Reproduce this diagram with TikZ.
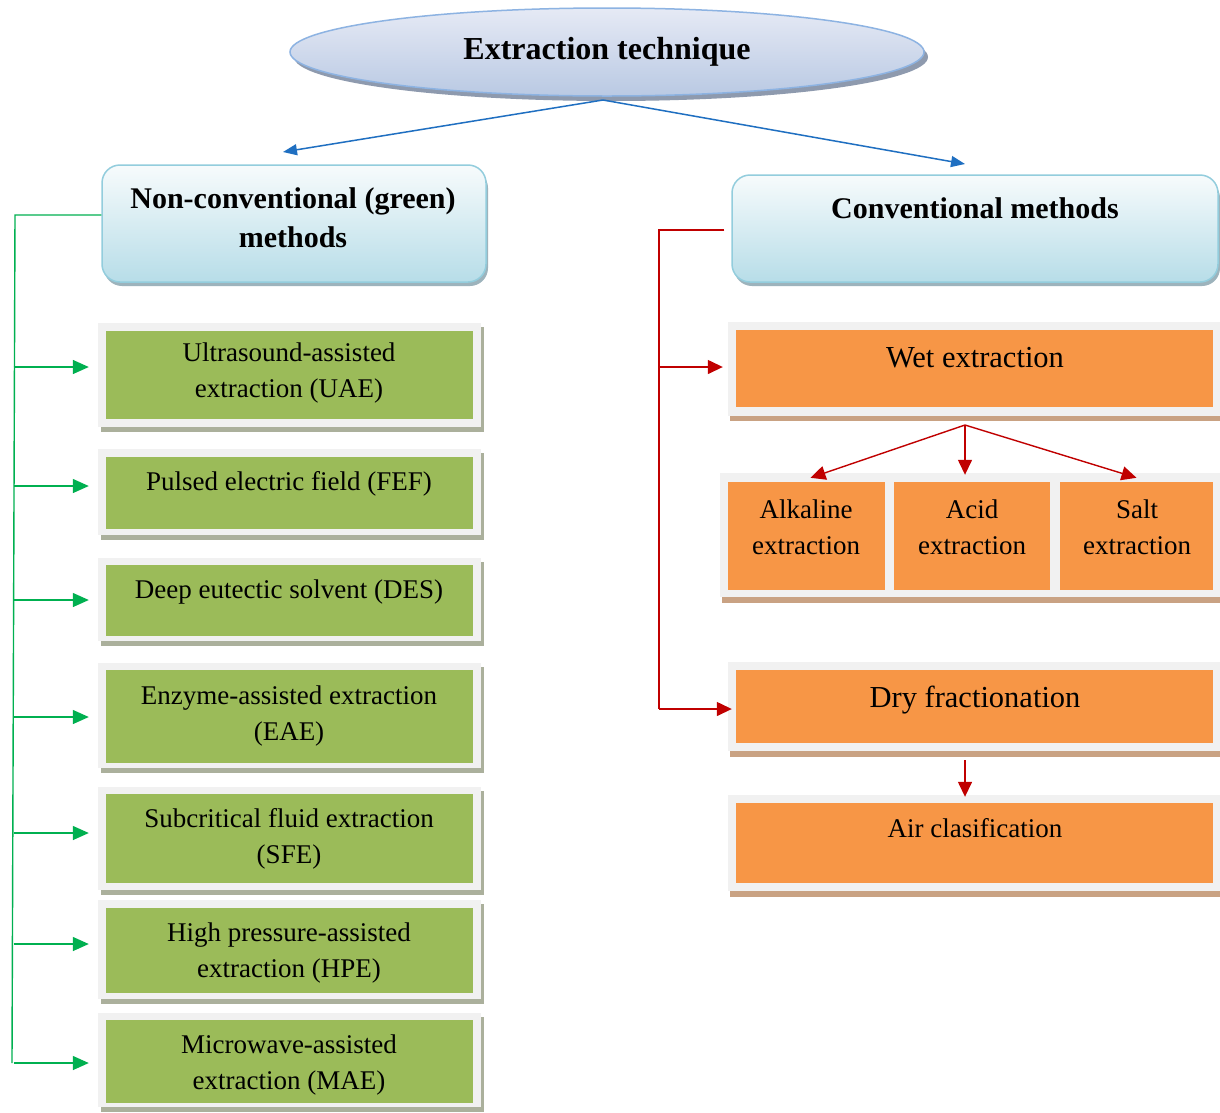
\documentclass[tikz,border=0pt]{standalone}
\usepackage{fontspec}
\setmainfont{Liberation Serif}
\usetikzlibrary{shapes.geometric,arrows.meta}
\definecolor{gbox}{HTML}{9BBB59}
\definecolor{obox}{HTML}{F79646}
\definecolor{frm}{HTML}{F1F1F1}
\definecolor{gshad}{HTML}{ABB09C}
\definecolor{oshad}{HTML}{C9A283}
\definecolor{gline}{HTML}{00B050}
\definecolor{rline}{HTML}{C00000}
\definecolor{bline}{HTML}{1F6FC1}
\definecolor{hdrtop}{HTML}{F7FBFC}
\definecolor{hdrbot}{HTML}{B7DDE8}
\definecolor{hdrline}{HTML}{93CDDD}
\definecolor{hdrshad}{HTML}{9DB3BC}
\definecolor{eltop}{HTML}{E6EAF5}
\definecolor{elbot}{HTML}{B9C9E3}
\definecolor{elline}{HTML}{8DB3E2}
\definecolor{elshad}{HTML}{8E9AAE}
\begin{document}
\begin{tikzpicture}[x=1pt,y=-1pt,
  greenbox/.style={fill=gbox, draw=none, minimum width=367pt, inner sep=0pt},
  orangebox/.style={fill=obox, draw=none, inner sep=0pt},
  gtxt/.style={align=center, font=\fontsize{27}{36}\selectfont, inner sep=0pt},
  otxt/.style={align=center, font=\fontsize{30.5}{37}\selectfont, inner sep=0pt},
  htxt/.style={align=center, font=\bfseries\fontsize{30}{39}\selectfont, inner sep=0pt},
  header/.style={rounded corners=18pt, top color=hdrtop, bottom color=hdrbot, draw=hdrline, line width=1.5pt, inner sep=0pt},
  garrow/.style={draw=gline, line width=1.4pt, -{Triangle[length=16pt,width=14pt]}},
  rarrow/.style={draw=rline, line width=1.4pt, -{Triangle[length=15pt,width=14pt]}},
  barrow/.style={draw=bline, line width=1.5pt, -{Triangle[length=14pt,width=11pt]}}
]
\useasboundingbox (0,0) rectangle (1220,1112);
\fill[white] (0,0) rectangle (1220,1112);

% root ellipse
\fill[elshad] (611,57) ellipse [x radius=317pt, y radius=44pt];
\node[ellipse, minimum width=634pt, minimum height=88pt, top color=eltop, bottom color=elbot, draw=elline, line width=1.5pt, font=\bfseries\fontsize{32}{36}\selectfont] (root) at (607,52) {\raisebox{4pt}{Extraction technique}};

% headers
\fill[hdrshad, rounded corners=18pt] (104,170) rectangle (488,286);
\node[header, minimum width=384pt, minimum height=117pt] (green) at (294,223.5) {};
\node[htxt] (greenT) at (293,218) {Non-conventional (green)\\methods};
\fill[hdrshad, rounded corners=18pt] (734,180) rectangle (1220,286);
\node[header, minimum width=486pt, minimum height=107pt] (conv) at (975,228.5) {};
\node[htxt] (convT) at (975,208) {Conventional methods};

\coordinate (rootL) at (603,100);
\coordinate (bl) at (283,152);
\coordinate (br) at (965,164);
\draw[barrow] (rootL) -- (bl);
\draw[barrow] (rootL) -- (br);

% green frames
\foreach \t/\b in {323/432, 449/540, 558/646, 663/773, 787/895, 900/1004, 1013/1112}{
  \fill[gshad] (101,\t+4) rectangle (484,\b);
  \fill[frm] (98,\t) rectangle (481,\b-5);
}
\node[greenbox, minimum height=88pt] (uae) at (289.5,375) {};
\node[greenbox, minimum height=72pt] (fef) at (289.5,493) {};
\node[greenbox, minimum height=71pt] (des) at (289.5,600.5) {};
\node[greenbox, minimum height=93pt] (eae) at (289.5,716.5) {};
\node[greenbox, minimum height=89pt] (sfe) at (289.5,838.5) {};
\node[greenbox, minimum height=85pt] (hpe) at (289.5,950.5) {};
\node[greenbox, minimum height=83pt] (mae) at (289.5,1061.5) {};
\node[gtxt] (uaeT) at (289,373) {Ultrasound-assisted\\extraction (UAE)};
\node[gtxt] (fefT) at (289,484) {Pulsed electric field (FEF)};
\node[gtxt] (desT) at (289,592) {Deep eutectic solvent (DES)};
\node[gtxt] (eaeT) at (289,716) {Enzyme-assisted extraction\\(EAE)};
\node[gtxt] (sfeT) at (289,839) {Subcritical fluid extraction\\(SFE)};
\node[gtxt] (hpeT) at (289,953) {High pressure-assisted\\extraction (HPE)};
\node[gtxt] (maeT) at (289,1065) {Microwave-assisted\\extraction (MAE)};

% green connectors
\coordinate (gtop) at (15,215);
\coordinate (gbot) at (12,1063);
\draw[draw=gline, line width=1.4pt] (green.west |- gtop) -- (gtop) -- (gbot);
\foreach \n/\y in {uae/367, fef/486, des/600, eae/717, sfe/833, hpe/944, mae/1063}{
  \coordinate (s\n) at (13.5,\y);
  \draw[garrow] (s\n) -- ([xshift=-17pt]\n.west |- s\n);
}

% orange frames
\fill[oshad] (730,326) rectangle (1220,421);
\fill[frm] (728,322) rectangle (1220,416);
\node[orangebox, minimum width=477pt, minimum height=77pt] (wet) at (974.5,368.5) {};
\node[otxt] (wetT) at (975,358) {Wet extraction};

\fill[oshad] (722,478) rectangle (1220,603);
\fill[frm] (720,473) rectangle (1220,597);
\node[orangebox, minimum width=157pt, minimum height=108pt] (alk) at (806.5,536) {};
\node[orangebox, minimum width=156pt, minimum height=108pt] (acid) at (972,536) {};
\node[orangebox, minimum width=153pt, minimum height=108pt] (salt) at (1136.5,536) {};
\node[gtxt] (alkT) at (806,527) {Alkaline\\extraction};
\node[gtxt] (acidT) at (972,527) {Acid\\extraction};
\node[gtxt] (saltT) at (1137,527) {Salt\\extraction};

\fill[oshad] (730,666) rectangle (1220,757);
\fill[frm] (728,662) rectangle (1220,751);
\node[orangebox, minimum width=477pt, minimum height=73pt] (dry) at (974.5,706.5) {};
\node[otxt] (dryT) at (975,700) {Dry fractionation};

\fill[oshad] (730,799) rectangle (1220,897);
\fill[frm] (728,795) rectangle (1220,891);
\node[orangebox, minimum width=477pt, minimum height=80pt] (air) at (974.5,843) {};
\node[gtxt] (airT) at (975,828) {Air clasification};

% red connectors
\coordinate (rtop) at (659,230);
\coordinate (rbot) at (659,709);
\coordinate (rwet) at (659,367);
\draw[draw=rline, line width=1.3pt] ([xshift=-7pt]conv.west |- rtop) -- (rtop) -- (rbot);
\draw[rarrow] (rwet) -- ([xshift=-13pt]wet.west |- rwet);
\draw[rarrow] (rbot) -- ([xshift=-4pt]dry.west |- rbot);

\coordinate (wetB) at (965,425);
\draw[rarrow] (wetB) -- ([xshift=4pt,yshift=4pt]alk.north);
\draw[rarrow] (wetB) -- ([yshift=7pt]wetB |- acid.north);
\draw[rarrow] (wetB) -- ([yshift=4pt]salt.north);
\coordinate (dryB) at (965,760);
\draw[rarrow] (dryB) -- ([yshift=6pt]dryB |- air.north);
\end{tikzpicture}
\end{document}
